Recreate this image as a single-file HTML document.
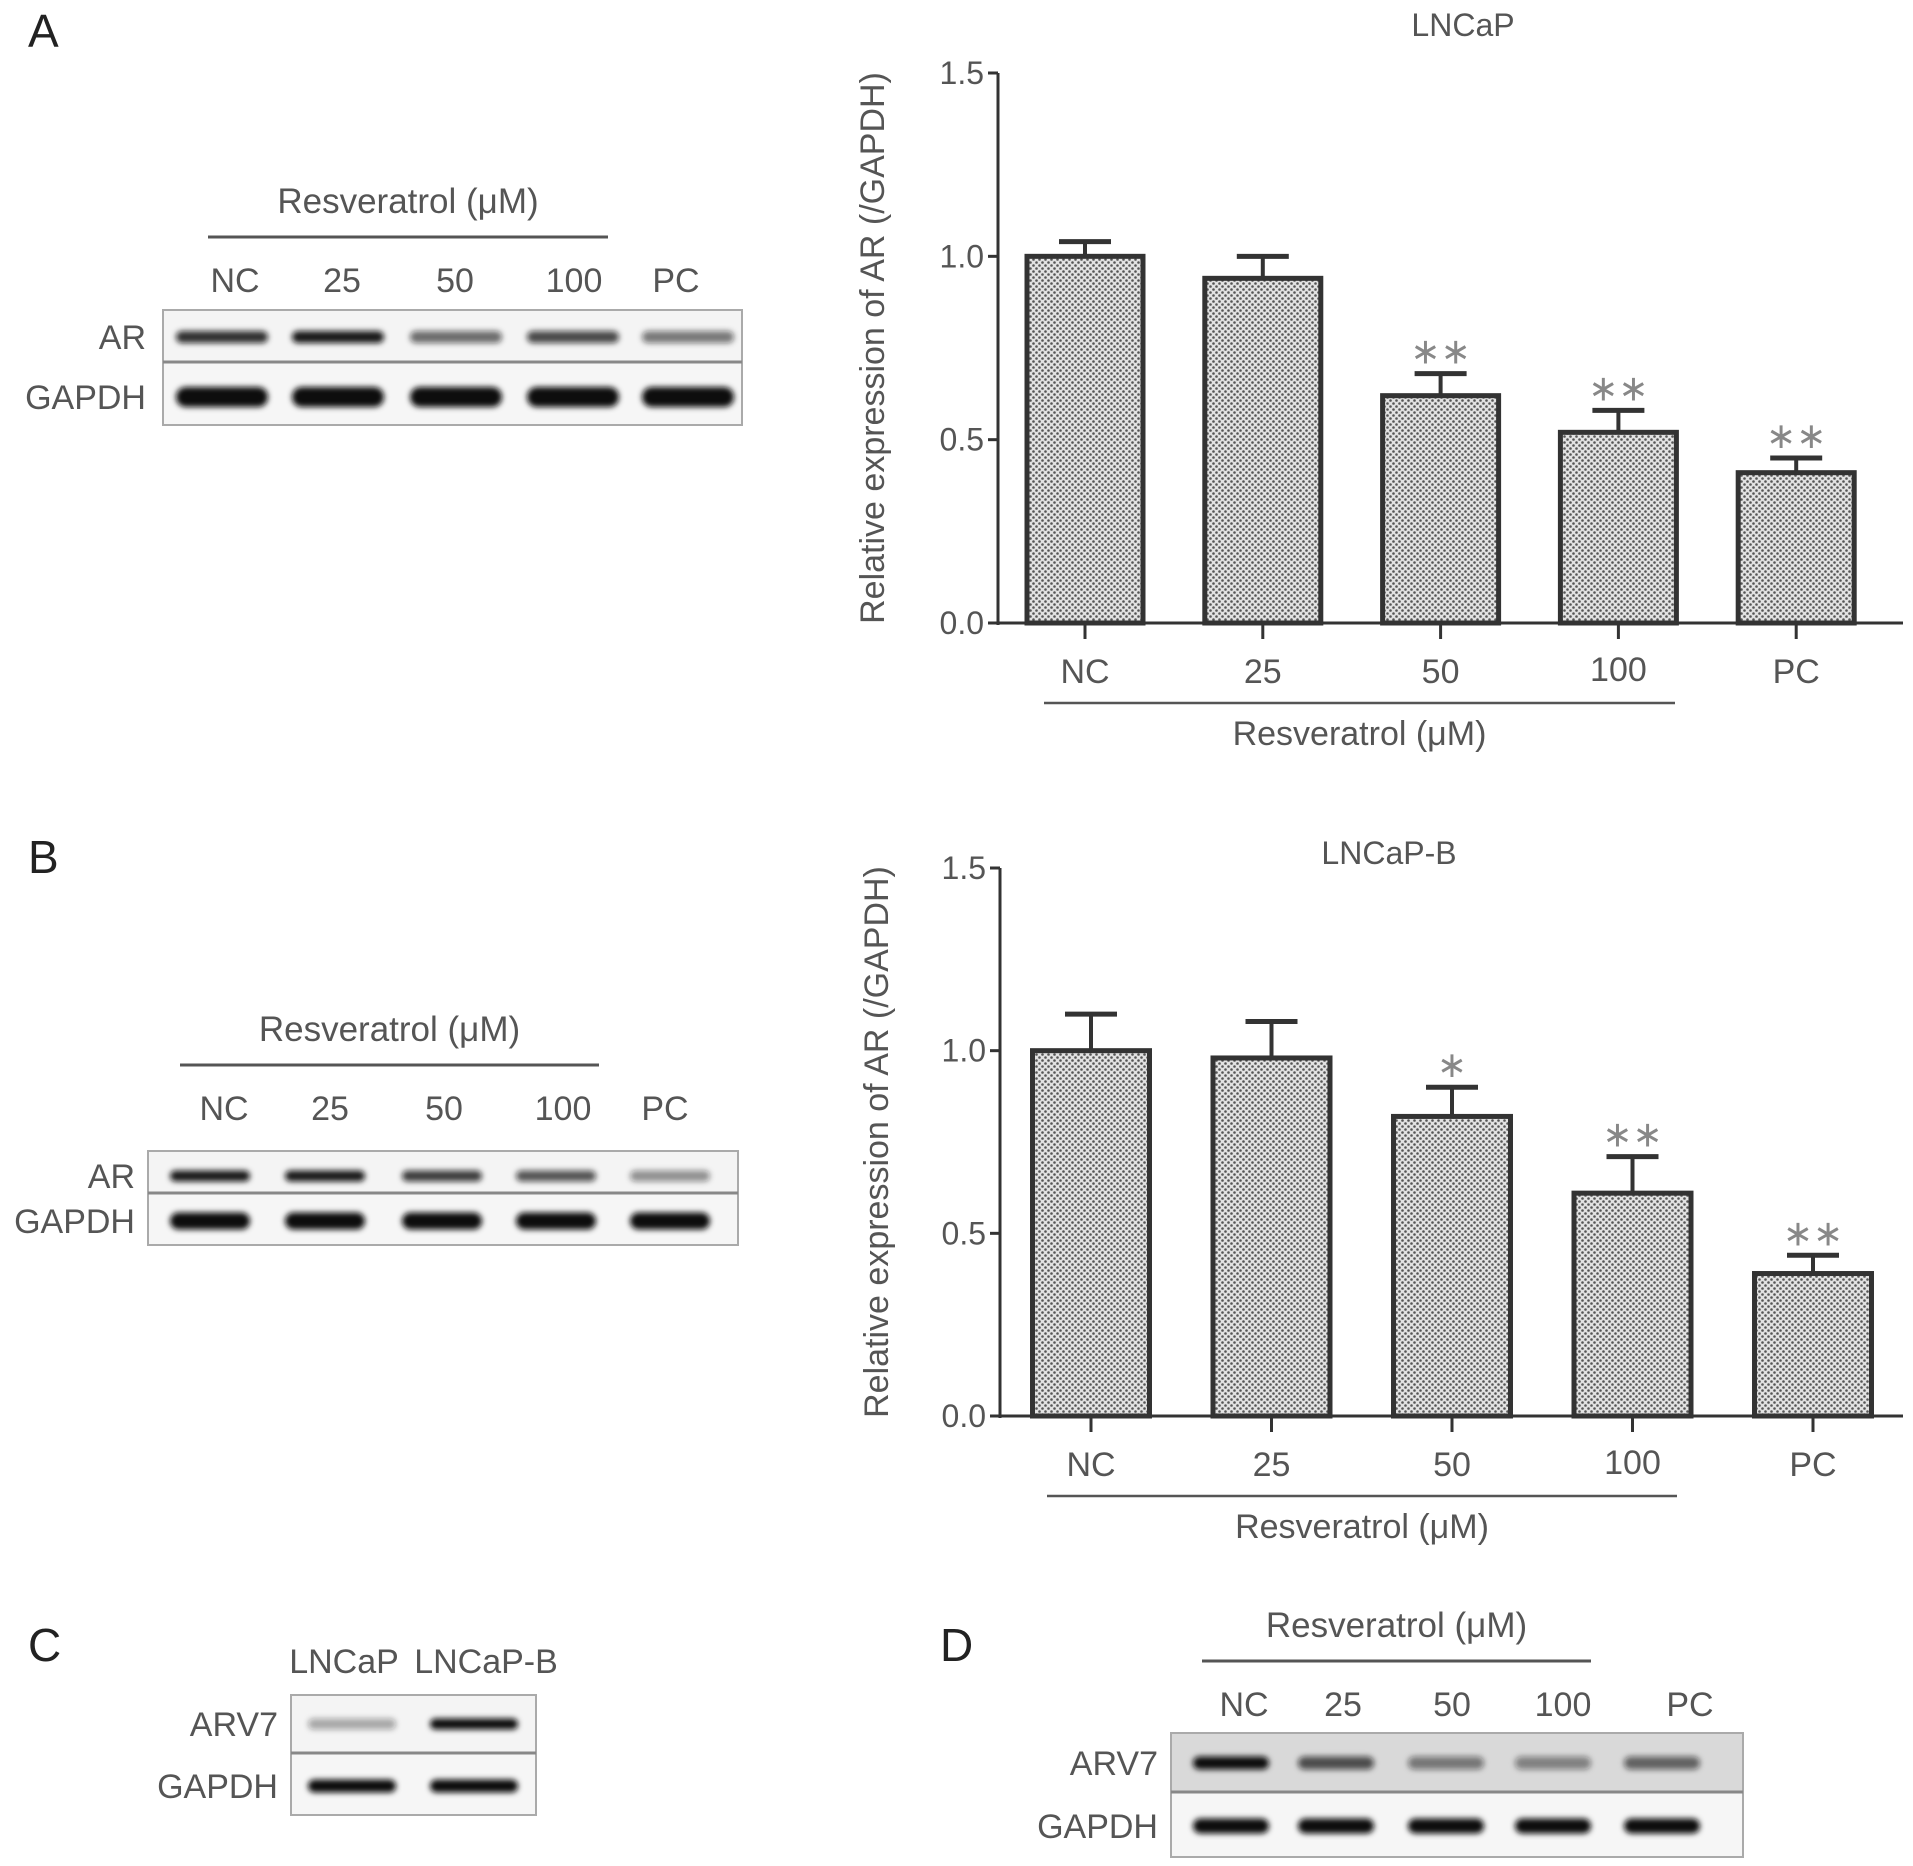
<!DOCTYPE html>
<html><head><meta charset="utf-8"><style>
html,body{margin:0;padding:0;background:#fff}
svg{display:block}
text{font-family:"Liberation Sans",sans-serif;fill:#555}
</style></head><body>
<svg id="fig" width="1913" height="1866" viewBox="0 0 1913 1866" xmlns="http://www.w3.org/2000/svg">
<defs>
<pattern id="dots" width="6" height="6" patternUnits="userSpaceOnUse">
<rect width="6" height="6" fill="#e2e2e2"/>
<circle cx="1.5" cy="1.5" r="1.3" fill="#555"/>
<circle cx="4.5" cy="4.5" r="1.3" fill="#555"/>
</pattern>
<filter id="blur" x="-20%" y="-100%" width="140%" height="300%"><feGaussianBlur stdDeviation="3"/></filter>
</defs>
<g id="root"></g>
</svg>
<script>
// Chart A (LNCaP)
const catsA = ["NC","25","50","100","PC"];
const valsA = [1.0, 0.94, 0.62, 0.52, 0.41];
const errA  = [0.04, 0.06, 0.06, 0.06, 0.04];
const sigA  = ["", "", "**", "**", "**"];
// Chart B (LNCaP-B)
const catsB = ["NC","25","50","100","PC"];
const valsB = [1.0, 0.98, 0.82, 0.61, 0.39];
const errB  = [0.10, 0.10, 0.08, 0.10, 0.05];
const sigB  = ["", "", "*", "**", "**"];
const yTicks = [0, 0.5, 1.0, 1.5];
const yTickLabels = ["0.0","0.5","1.0","1.5"];
// Blot band intensities
const blotA_AR = [0.85,0.95,0.6,0.75,0.55];
const blotA_G  = [1,1,1,1,1];
const blotB_AR = [0.95,0.95,0.8,0.7,0.45];
const blotB_G  = [1,1,1,1,1];
const blotC_ARV7 = [0.35,1];
const blotC_G  = [1,1];
const blotD_ARV7 = [1,0.7,0.5,0.45,0.6];
const blotD_G  = [1,1,1,1,1];

const NS="http://www.w3.org/2000/svg";
const root=document.getElementById('root');
function el(tag,attrs,parent){const e=document.createElementNS(NS,tag);for(const k in attrs)e.setAttribute(k,attrs[k]);(parent||root).appendChild(e);return e;}
function txt(x,y,s,size,anchor,parent){const t=el('text',{x:x,y:y,'font-size':size,'text-anchor':anchor||'middle'},parent);t.textContent=s;return t;}

function chart(o){
  const g=el('g',{});
  
  
  const y=v=>o.y0-(v/1.5)*(o.y0-o.y15);
  const x=i=>o.x1+o.step*i;
  const ya=el('line',{x1:o.ax,y1:o.y15,x2:o.ax,y2:o.y0+2,stroke:'#333','stroke-width':3},g);
  
  
  const xa=el('line',{x1:o.ax-10,y1:o.y0,x2:o.xend,y2:o.y0,stroke:'#333','stroke-width':3},g);
  
  
  yTicks.forEach((t,i)=>{
    el('line',{x1:o.ax-10,y1:y(t),x2:o.ax,y2:y(t),stroke:'#333','stroke-width':3},g);
    const l=txt(o.ax-14,y(t)+11,yTickLabels[i],32,'end',g);
    
    
  });
  o.cats.forEach((c,i)=>{
    const cx=x(i), top=y(o.vals[i]), et=y(o.vals[i]+o.err[i]);
    el('line',{x1:cx,y1:top,x2:cx,y2:et,stroke:'#333','stroke-width':4},g);
    el('line',{x1:cx-26,y1:et,x2:cx+26,y2:et,stroke:'#333','stroke-width':5},g);
    const b=el('rect',{x:cx-o.bw/2,y:top,width:o.bw,height:o.y0-top,fill:'url(#dots)',stroke:'#333','stroke-width':5},g);
    
    
    el('line',{x1:cx,y1:o.y0,x2:cx,y2:o.y0+16,stroke:'#333','stroke-width':3},g);
    const l=txt(cx,o.y0+(c==="100"?58:60),c,34,'middle',g);
    
    
    if(o.sig[i]){
      const s=txt(cx,et-10,o.sig[i].replace(/\*/g,'∗'),36,'middle',g);
      s.style.fill='#888';
      
      
    }
  });
  const t=txt(o.tx,o.ty,o.title,32,'middle',g);
  
  
  const yl=txt(0,0,'Relative expression of AR (/GAPDH)',34,'middle',g);
  yl.setAttribute('transform','translate('+o.ylx+','+((o.y0+o.y15)/2)+') rotate(-90)');
  
  
  el('line',{x1:o.ulx1,y1:o.uly,x2:o.ulx2,y2:o.uly,stroke:'#555','stroke-width':2.5},g);
  const xl=txt((o.ulx1+o.ulx2)/2,o.uly+42,'Resveratrol (μM)',34,'middle',g);
  
  
}
chart({name:'chart-a-lncap',cats:catsA,vals:valsA,err:errA,sig:sigA,ax:998,y0:623,y15:73,x1:1085,step:177.8,bw:116,xend:1903,
  title:'LNCaP',tx:1463,ty:36,ylx:884,ulx1:1044,ulx2:1675,uly:703});
chart({name:'chart-b-lncap-b',cats:catsB,vals:valsB,err:errB,sig:sigB,ax:1000,y0:1416,y15:868,x1:1091,step:180.5,bw:117,xend:1903,
  title:'LNCaP-B',tx:1389,ty:864,ylx:888,ulx1:1047,ulx2:1677,uly:1496});

function blot(o){
  const g=el('g',{});
  
  
  if(o.panel){const p=txt(o.px,o.py,o.panel,46,'start',g);p.style.fill='#222';
    
    }
  if(o.ulx1){el('line',{x1:o.ulx1,y1:o.uly,x2:o.ulx2,y2:o.uly,stroke:'#555','stroke-width':3},g);
    const r=txt((o.ulx1+o.ulx2)/2,o.uly-24,'Resveratrol (μM)',35,'middle',g);
    
    }
  o.lanes.forEach((l,i)=>{const t=txt(o.lx[i],o.ly,l,34,'middle',g);
    
    });
  el('rect',{x:o.bx,y:o.by,width:o.bw,height:o.dy-o.by,fill:o.topBg||'#f4f4f4',stroke:'#aaa','stroke-width':2},g);
  el('rect',{x:o.bx,y:o.dy,width:o.bw,height:o.bb-o.dy,fill:'#f6f6f6',stroke:'#aaa','stroke-width':2},g);
  el('line',{x1:o.bx,y1:o.dy,x2:o.bx+o.bw,y2:o.dy,stroke:'#888','stroke-width':3},g);
  const rows=[[o.row1,o.r1y,o.int1,o.h1],[o.row2,o.r2y,o.int2,o.h2]];
  rows.forEach(([name,ry,ints,h])=>{
    const t=txt(o.rlx,ry+12,name,34,'end',g);
    
    
    ints.forEach((v,i)=>{
      const b=el('rect',{x:o.cx[i]-o.bandW/2,y:ry-h/2,width:o.bandW,height:h,rx:h/2,fill:'#111','fill-opacity':v,filter:'url(#blur)'},g);
      
      
    });
  });
}
blot({name:'blot-a',panel:'A',px:28,py:47,ulx1:208,ulx2:608,uly:237,lanes:catsA,lx:[235,342,455,574,676],ly:292,
  bx:163,by:310,bw:579,dy:362,bb:425,row1:'AR',r1y:337,row2:'GAPDH',r2y:397,rlx:146,int1:blotA_AR,int2:blotA_G,h1:12,h2:20,
  cx:[222,338,456,573,688],bandW:92});
blot({name:'blot-b',panel:'B',px:28,py:873,ulx1:180,ulx2:599,uly:1065,lanes:catsB,lx:[224,330,444,563,665],ly:1120,
  bx:148,by:1151,bw:590,dy:1193,bb:1245,row1:'AR',r1y:1176,row2:'GAPDH',r2y:1221,rlx:135,int1:blotB_AR,int2:blotB_G,h1:11,h2:17,
  cx:[210,325,442,556,670],bandW:80});
blot({name:'blot-c',panel:'C',px:28,py:1661,lanes:['LNCaP','LNCaP-B'],lx:[344,486],ly:1673,
  bx:291,by:1695,bw:245,dy:1753,bb:1815,row1:'ARV7',r1y:1724,row2:'GAPDH',r2y:1786,rlx:278,int1:blotC_ARV7,int2:blotC_G,h1:11,h2:13,
  cx:[352,474],bandW:88});
blot({name:'blot-d',panel:'D',px:940,py:1661,ulx1:1202,ulx2:1591,uly:1661,lanes:catsA,lx:[1244,1343,1452,1563,1690],ly:1716,
  bx:1171,by:1733,bw:572,dy:1792,bb:1857,row1:'ARV7',r1y:1763,row2:'GAPDH',r2y:1826,rlx:1158,int1:blotD_ARV7,int2:blotD_G,h1:13,h2:15,
  cx:[1231,1336,1446,1553,1662],bandW:76,topBg:'#d9d9d9'});
</script>
</body></html>
